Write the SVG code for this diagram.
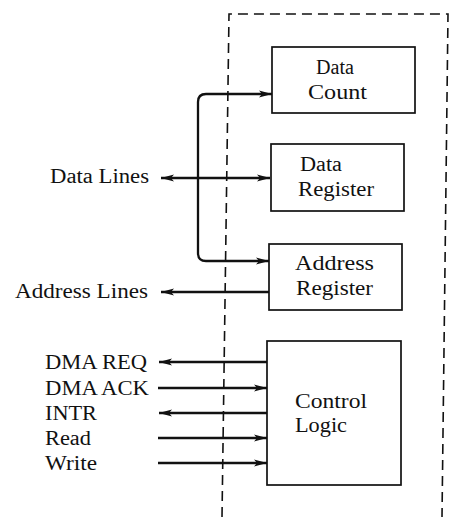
<svg xmlns="http://www.w3.org/2000/svg" width="450" height="517" viewBox="0 0 450 517">
  <style>
    .box { fill: #fff; stroke: #111; stroke-width: 1.7; }
    .lbl { font-family: "Liberation Serif", "Times New Roman", serif; font-size: 20px; fill: #111; }
    .wire { fill: none; stroke: #111; stroke-width: 2.3; }
    .dash { fill: none; stroke: #111; stroke-width: 1.6; stroke-dasharray: 10 6; }
  </style>
  <defs>
    <marker id="arrow" markerUnits="userSpaceOnUse" markerWidth="14" markerHeight="8" refX="13" refY="4" orient="auto-start-reverse">
      <path d="M0,0.5 L13,4 L0,7.5 L3,4 z" fill="#111"/>
    </marker>
  </defs>

  <!-- DMA controller boundary (open at the bottom) -->
  <path id="boundary" class="dash" d="M222,517 L229,14 L448,14 L442,517"/>

  <!-- connectors -->
  <g id="connectors">
    <!-- internal data bus -->
    <path class="wire" d="M272,94 L206,94 Q198,94 198,102 L198,253 Q198,261 206,261 L269,261" marker-start="url(#arrow)" marker-end="url(#arrow)"/>
    <line class="wire" x1="161" y1="178" x2="270" y2="178" marker-start="url(#arrow)" marker-end="url(#arrow)"/>
    <line class="wire" x1="269" y1="292" x2="161" y2="292" marker-end="url(#arrow)"/>
    <!-- control signals -->
    <line class="wire" x1="267" y1="362" x2="159" y2="362" marker-end="url(#arrow)"/>
    <line class="wire" x1="158" y1="388" x2="267" y2="388" marker-end="url(#arrow)"/>
    <line class="wire" x1="267" y1="413" x2="159" y2="413" marker-end="url(#arrow)"/>
    <line class="wire" x1="158" y1="438" x2="267" y2="438" marker-end="url(#arrow)"/>
    <line class="wire" x1="158" y1="463" x2="267" y2="463" marker-end="url(#arrow)"/>
  </g>

  <g id="data-count">
    <rect class="box" x="272" y="47" width="143" height="66"/>
    <text class="lbl" x="316" y="74" textLength="38" lengthAdjust="spacingAndGlyphs">Data</text>
    <text class="lbl" x="308" y="99" textLength="59" lengthAdjust="spacingAndGlyphs">Count</text>
  </g>

  <g id="data-register">
    <rect class="box" x="271" y="144" width="133" height="67"/>
    <text class="lbl" x="300" y="171" textLength="42" lengthAdjust="spacingAndGlyphs">Data</text>
    <text class="lbl" x="298" y="196" textLength="76" lengthAdjust="spacingAndGlyphs">Register</text>
  </g>

  <g id="address-register">
    <rect class="box" x="269" y="244" width="133" height="66"/>
    <text class="lbl" x="295" y="270" textLength="79" lengthAdjust="spacingAndGlyphs">Address</text>
    <text class="lbl" x="296" y="295" textLength="77" lengthAdjust="spacingAndGlyphs">Register</text>
  </g>

  <g id="control-logic">
    <rect class="box" x="267" y="341" width="134" height="144"/>
    <text class="lbl" x="295" y="408" textLength="72" lengthAdjust="spacingAndGlyphs">Control</text>
    <text class="lbl" x="295" y="432" textLength="52" lengthAdjust="spacingAndGlyphs">Logic</text>
  </g>

  <g id="external-signals">
    <text class="lbl" x="50" y="183" textLength="99" lengthAdjust="spacingAndGlyphs">Data Lines</text>
    <text class="lbl" x="15" y="298" textLength="133" lengthAdjust="spacingAndGlyphs">Address Lines</text>
    <text class="lbl" x="45" y="369" textLength="102" lengthAdjust="spacingAndGlyphs">DMA REQ</text>
    <text class="lbl" x="45" y="395" textLength="104" lengthAdjust="spacingAndGlyphs">DMA ACK</text>
    <text class="lbl" x="45" y="420" textLength="52" lengthAdjust="spacingAndGlyphs">INTR</text>
    <text class="lbl" x="45" y="445" textLength="46" lengthAdjust="spacingAndGlyphs">Read</text>
    <text class="lbl" x="45" y="470" textLength="52" lengthAdjust="spacingAndGlyphs">Write</text>
  </g>
</svg>
